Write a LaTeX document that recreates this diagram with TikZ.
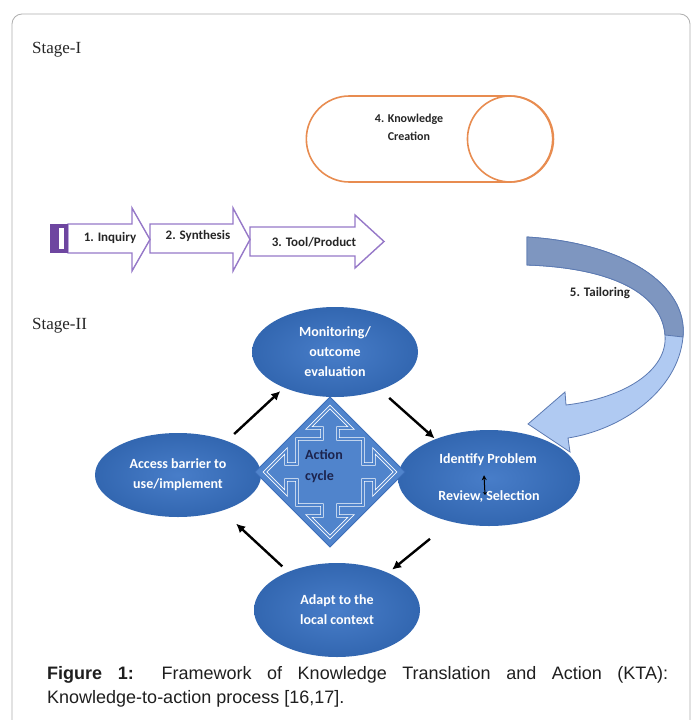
\documentclass[tikz,border=0pt]{standalone}
\usepackage{fontspec}
\setmainfont{Liberation Sans}
\newfontfamily\boxfont{Carlito}
\newfontfamily\stagefont{Liberation Serif}
\usetikzlibrary{shapes.geometric,shapes.misc,arrows.meta}

\definecolor{kcorange}{RGB}{232,140,80}
\definecolor{steppurple}{RGB}{150,120,200}
\definecolor{bardpurple}{RGB}{110,70,160}
\definecolor{cycblue}{RGB}{56,114,196}
\definecolor{quadblue}{RGB}{80,132,204}
\definecolor{quadedge}{RGB}{60,110,185}
\definecolor{taildark}{RGB}{126,150,192}
\definecolor{taillight}{RGB}{176,202,242}
\definecolor{tailedge}{RGB}{92,122,178}
\definecolor{framegray}{RGB}{175,175,175}
\definecolor{actnavy}{RGB}{28,36,78}

\tikzset{
  cyclebox/.style={ellipse, inner sep=0pt, inner color=cycblue!92!white, outer color=cycblue!90!black, text=white, align=center, font=\boxfont\bfseries\fontsize{14}{20}\selectfont},
  celltext/.style={text=white, inner sep=0pt, font=\boxfont\bfseries\fontsize{14}{20}\selectfont},
  steptext/.style={inner sep=0pt, text=black!85, font=\boxfont\bfseries\fontsize{13}{17}\selectfont},
  stagetext/.style={anchor=west, inner sep=0pt, text=black!85, font=\stagefont\fontsize{17}{20}\selectfont},
  stepshape/.style={draw=steppurple, line width=1.4pt, fill=white, line join=miter},
  cyclearrow/.style={-{Latex[length=9pt,width=9pt]}, line width=2.4pt},
  captext/.style={anchor=base west, inner sep=0pt, text=black!88, font=\fontsize{18}{22}\selectfont},
}

\begin{document}
\begin{tikzpicture}[x=1pt,y=-1pt]
	\useasboundingbox (0,0) rectangle (695,720);
	\fill[white] (0,0) rectangle (695,720);
	\draw[framegray, line width=0.8pt, rounded corners=10pt] (12,740) -- (12,14) -- (690,14) -- (690,740);

	% stage I
	\node[stagetext] (stage1) at (32,50) {Stage-I};

	\node[rounded rectangle, draw=kcorange, line width=1.6pt, minimum width=253pt, minimum height=86pt] (kc) at (429.5,139) {};
	\draw[kcorange, line width=1.6pt] ([xshift=-43pt]kc.east) circle (43);
	\node[steptext, align=center, font=\boxfont\bfseries\fontsize{12}{18}\selectfont] (kctext) at (409,127) {4. Knowledge\\Creation};

	\draw[stepshape] (250,227) -- (355,227) -- (355,215) -- (384,241.5) -- (355,268) -- (355,256) -- (250,256) -- cycle;
	\draw[stepshape] (150,224) -- (233,224) -- (233,208) -- (250,239.5) -- (233,271) -- (233,253) -- (150,253) -- cycle;
	\draw[stepshape] (68,224) -- (132,224) -- (132,208) -- (150,239.5) -- (132,271) -- (132,253) -- (68,253) -- cycle;
	\fill[bardpurple] (50,224) rectangle (68,253);
	\fill[white] (59,228) rectangle (64,249);

	\node[steptext] (inq) at (110,238) {1. Inquiry};
	\node[steptext] (syn) at (198,236) {2. Synthesis};
	\node[steptext] (tool) at (314,242) {3. Tool/Product};

	% tailoring
	\draw[tailedge, fill=taillight, line width=0.8pt] (527,237) .. controls (625,243) and (688,285) .. (683,337) .. controls (678,392) and (620,430) .. (568,438) -- (570,452) -- (528,424) -- (565,392) -- (566,405) .. controls (625,398) and (668,370) .. (665,335) .. controls (662,295) and (615,268) .. (527,265) -- cycle;
	\draw[tailedge, fill=taildark, line width=0.8pt] (527,237) .. controls (625,243) and (688,285) .. (683,337) -- (665,335) .. controls (662,295) and (615,268) .. (527,265) -- cycle;
	\node[steptext] (tail) at (600,293) {5. Tailoring};

	% stage II
	\node[stagetext] (stage2) at (32,326) {Stage-II};

	\node[cyclebox, minimum width=166pt, minimum height=90pt] (mon) at (335,352) {Monitoring/\\outcome\\evaluation};
	\node[cyclebox, minimum width=166pt, minimum height=84pt] (acc) at (178,475) {Access barrier to\\use/implement};
	\node[cyclebox, minimum width=182pt, minimum height=96pt] (ide) at (489,478) {};
	\node[celltext] (idp) at (488,460) {Identify Problem};
	\node[celltext] (rsel) at (489,497) {Review, Selection};
	\node[cyclebox, minimum width=166pt, minimum height=94pt] (ada) at (337,610) {Adapt to the\\local context};

	\draw[{Stealth[length=5pt,width=5pt]}-{Stealth[length=3pt,width=4pt]}, line width=1pt] ([xshift=-4pt,yshift=-9pt]idp.south) -- ([xshift=-4pt,yshift=2pt]rsel.center);

	% action cycle
	\begin{scope}[shift={(330,472)}]
		\draw[quadedge, fill=quadblue, line width=0.8pt] (0,-75) -- (75,0) -- (0,75) -- (-75,0) -- cycle;
		\draw[white, line width=0.9pt, double=quadblue, double distance=1.6pt] (0,-65) -- (21,-44) -- (8,-44) -- (8,-33) -- (33,-33) -- (33,-8) -- (44,-8) -- (44,-21) -- (65,0) -- (44,21) -- (44,8) -- (33,8) -- (33,33) -- (8,33) -- (8,44) -- (21,44) -- (0,65) -- (-21,44) -- (-8,44) -- (-8,33) -- (-33,33) -- (-33,8) -- (-44,8) -- (-44,21) -- (-65,0) -- (-44,-21) -- (-44,-8) -- (-33,-8) -- (-33,-33) -- (-8,-33) -- (-8,-44) -- (-21,-44) -- cycle;
	\end{scope}
	\node[anchor=west, inner sep=0pt, align=left, text=actnavy, font=\boxfont\bfseries\fontsize{14}{21}\selectfont] (actlbl) at (305,466) {Action\\cycle};

	\draw[cyclearrow, shorten <=10pt, shorten >=5pt] (acc.35) -- (mon.215);
	\draw[cyclearrow, shorten <=12pt, shorten >=1pt] (mon.-40) -- (ide.144);
	\draw[cyclearrow, shorten <=27pt, shorten >=5pt] (ide.229) -- (ada.36);
	\draw[cyclearrow, shorten <=8pt, shorten >=19pt] (ada.142) -- (acc.-39);

	% caption
	\node[captext] (cap1) at (47,679) {\makebox[621pt][s]{\textbf{Figure 1:} Framework of Knowledge Translation and Action (KTA):}};
	\node[captext] (cap2) at (47,703) {Knowledge-to-action process [16,17].};
\end{tikzpicture}
\end{document}
